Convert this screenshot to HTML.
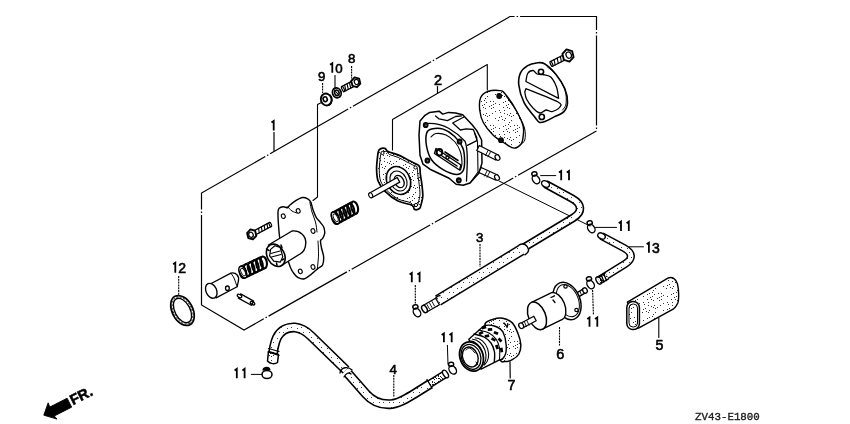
<!DOCTYPE html>
<html><head><meta charset="utf-8">
<style>
html,body{margin:0;padding:0;background:#fff;width:850px;height:424px;overflow:hidden}
svg{display:block;will-change:transform}
.l{stroke:#000;stroke-width:1.3;fill:none;stroke-linecap:round;stroke-linejoin:round}
.w{stroke:#000;stroke-width:1.3;fill:#fff;stroke-linejoin:round}
.s{stroke:#000;stroke-width:1.3;fill:url(#st);stroke-linejoin:round}
.d{stroke:#000;stroke-width:1.2;fill:none;stroke-dasharray:90 2 1.5 2}
.ld{stroke:#000;stroke-width:1.1;fill:none;stroke-dasharray:2 0.8}
.dg{stroke:#000;stroke-width:1.8;fill:none;stroke-linejoin:miter}
.t{font-family:"Liberation Sans",sans-serif;font-size:13px;fill:#000;stroke:#000;stroke-width:0.6}
</style></head><body>
<svg width="850" height="424" viewBox="0 0 850 424">
<defs>
<pattern id="st" width="24" height="24" patternUnits="userSpaceOnUse"><rect width="24" height="24" fill="#fff"/><rect x="19" y="8" width="1" height="1" fill="#333"/><rect x="23" y="11" width="1" height="1" fill="#333"/><rect x="22" y="23" width="1" height="1" fill="#333"/><rect x="20" y="16" width="1" height="1" fill="#333"/><rect x="0" y="14" width="1" height="1" fill="#333"/><rect x="7" y="20" width="1" height="1" fill="#333"/><rect x="1" y="5" width="1" height="1" fill="#333"/><rect x="3" y="11" width="1" height="1" fill="#333"/><rect x="15" y="7" width="1" height="1" fill="#333"/><rect x="12" y="17" width="1" height="1" fill="#333"/><rect x="3" y="18" width="1" height="1" fill="#333"/><rect x="7" y="0" width="1" height="1" fill="#333"/><rect x="23" y="6" width="1" height="1" fill="#333"/><rect x="13" y="8" width="1" height="1" fill="#333"/><rect x="5" y="12" width="1" height="1" fill="#333"/><rect x="5" y="2" width="1" height="1" fill="#333"/><rect x="19" y="14" width="1" height="1" fill="#333"/><rect x="4" y="4" width="1" height="1" fill="#333"/><rect x="0" y="0" width="1" height="1" fill="#333"/><rect x="6" y="6" width="1" height="1" fill="#333"/><rect x="9" y="10" width="1" height="1" fill="#333"/><rect x="6" y="17" width="1" height="1" fill="#333"/><rect x="21" y="20" width="1" height="1" fill="#333"/><rect x="13" y="5" width="1" height="1" fill="#333"/><rect x="4" y="8" width="1" height="1" fill="#333"/><rect x="9" y="19" width="1" height="1" fill="#333"/><rect x="18" y="0" width="1" height="1" fill="#333"/><rect x="19" y="21" width="1" height="1" fill="#333"/><rect x="2" y="9" width="1" height="1" fill="#333"/><rect x="11" y="9" width="1" height="1" fill="#333"/><rect x="15" y="22" width="1" height="1" fill="#333"/><rect x="10" y="5" width="1" height="1" fill="#333"/><rect x="15" y="15" width="1" height="1" fill="#333"/><rect x="11" y="12" width="1" height="1" fill="#333"/><rect x="0" y="17" width="1" height="1" fill="#333"/><rect x="13" y="11" width="1" height="1" fill="#333"/><rect x="1" y="22" width="1" height="1" fill="#333"/><rect x="5" y="19" width="1" height="1" fill="#333"/></pattern>
<pattern id="st2" width="6" height="6" patternUnits="userSpaceOnUse"><rect width="6" height="6" fill="#fff"/><rect x="2" y="1" width="1" height="1" fill="#222"/><rect x="3" y="5" width="1" height="1" fill="#222"/><rect x="0" y="0" width="1" height="1" fill="#222"/><rect x="4" y="0" width="1" height="1" fill="#222"/><rect x="2" y="4" width="1" height="1" fill="#222"/><rect x="0" y="4" width="1" height="1" fill="#222"/><rect x="1" y="0" width="1" height="1" fill="#222"/><rect x="0" y="3" width="1" height="1" fill="#222"/></pattern>
<pattern id="sth" width="10" height="10" patternUnits="userSpaceOnUse"><rect width="10" height="10" fill="#fff"/><rect x="7" y="8" width="1" height="1" fill="#444"/><rect x="3" y="2" width="1" height="1" fill="#444"/><rect x="9" y="2" width="1" height="1" fill="#444"/><rect x="1" y="7" width="1" height="1" fill="#444"/></pattern>
</defs>
<path class="d" d="M201.5,305 L201.5,193 L510,16.5 L596.5,16.5 L596.5,131 L244,330 Z"/>
<path class="dg" d="M271.5,122.6 l2.2,-1.6 v9.5"/>
<path class="l" d="M274,132.5 V151" style="stroke-width:1.2"/>
<path class="l" d="M392.5,150 V119.5 L487.3,64.6 V90" style="stroke-width:1.1"/>
<text class="t" x="434" y="85" style="font-size:14.53px">2</text>
<path class="l" d="M437.5,86.5 V93" style="stroke-width:1.2"/>
<text class="t" x="348" y="62.8" style="font-size:13.27px">8</text>
<path class="dg" d="M330.1,64.8 l2.2,-1.6 v9.5"/>
<text class="t" x="335.3" y="72.7" style="font-size:13.27px">0</text>
<text class="t" x="318" y="81" style="font-size:13.27px">9</text>
<path class="ld" d="M351.6,66 V78.5" />
<path class="l" d="M335,75.5 V88" style="stroke-width:1.1"/>
<path class="ld" d="M322.6,83 V93" />
<ellipse class="w" cx="326.2" cy="99.5" rx="5.3" ry="6" transform="rotate(-20 326.2 99.5)" style="stroke-width:1.9"/>
<path class="l" d="M330,95 C333,98 332.5,103 329,105" style="stroke-width:1.5"/>
<ellipse class="w" cx="325.2" cy="99.2" rx="2" ry="2.4" transform="rotate(-20 325.2 99.2)" style="stroke-width:1.6"/>
<ellipse class="w" cx="336.8" cy="92.8" rx="4.3" ry="5" transform="rotate(-20 336.8 92.8)" style="stroke-width:1.8"/>
<ellipse class="l" cx="336.8" cy="92.8" rx="2.2" ry="2.8" transform="rotate(-20 336.8 92.8)" style="stroke-width:1.6"/>
<path class="l" d="M334.5,90 L339,95.5" style="stroke-width:1.1"/>
<path class="w" d="M352,81.13 L341.7,86.52 L344.3,91.48 L354.6,86.09Z" />
<path class="l" d="M349.43,82.48 L350.7,88.13 M347.02,83.73 L348.29,89.39 M344.62,84.99 L345.89,90.65 M342.22,86.25 L343.48,91.91 " style="stroke-width:1.1"/>
<ellipse class="w" cx="343" cy="89" rx="1" ry="2.8" transform="rotate(152.37 343 89)" style="stroke-width:1.2"/>
<path class="w" d="M360.34,83.61 L357.02,87.2 L352.48,85.89 L351.26,80.99 L354.58,77.4 L359.12,78.71Z" style="stroke-width:1.9"/>
<ellipse class="l" cx="356.51" cy="81.93" rx="2.12" ry="2.59" transform="rotate(152.37 356.51 81.93)" style="stroke-width:1.2"/>
<path class="l" d="M321,102.8 L317.5,104.5 V197 L313,200.5" style="stroke-width:1.1"/>
<path class="w" d="M278,212 C278.07,210.04 278.48,208.82 279.1,208.2 C279.72,207.58 282.31,206.76 283.3,206.7 C284.29,206.64 286.85,207.88 287.6,207.7 C288.35,207.52 288.71,206.06 289.7,205.2 C290.69,204.34 294.62,201.2 296.1,200.3 C297.58,199.4 301.05,197.68 302.4,197.5 C303.75,197.32 306.71,198.23 307.7,198.8 C308.69,199.37 310.28,201.12 310.9,202.4 C311.52,203.68 312.38,208.06 313,209.8 C313.62,211.54 315.32,215.81 316.2,217.3 C317.07,218.79 319.64,221.49 320.5,222.6 C321.36,223.71 323.11,225.56 323.6,226.8 C324.09,228.04 324.82,231.83 324.7,233.2 C324.58,234.56 323.09,237.64 322.6,238.5 C322.11,239.36 320.63,239.49 320.5,240.6 C320.37,241.71 321.14,246.15 321.5,248 C321.86,249.85 323.47,254.52 323.6,256.5 C323.73,258.48 323.22,263.63 322.6,265 C321.98,266.37 319.67,267.08 318.3,268.2 C316.94,269.32 312.51,273.36 310.9,274.6 C309.29,275.84 305.98,278.44 304.5,278.8 C303.02,279.16 299.44,278.32 298.2,277.7 C296.96,277.08 294.76,274.61 293.9,273.5 C293.04,272.39 291.72,270.36 290.8,268.2 C289.88,266.04 287.24,258.22 286,255 C284.76,251.78 281.07,244.1 280.2,240.6 C279.32,237.1 278.76,228.34 278.5,225 C278.24,221.66 277.93,213.96 278,212Z" style="stroke-width:1.4"/>
<path class="l" d="M287.6,206.7 C288.33,207.42 290.43,209.95 292,211 C293.57,212.05 296.17,212.67 297,213" style="stroke-width:1"/>
<path class="l" d="M309.9,202.4 C310.25,204 311.07,208.73 312,212 C312.93,215.27 314.67,218.67 315.5,222 C316.33,225.33 316.75,230.33 317,232" style="stroke-width:1"/>
<path class="l" d="M318,241 C318.08,243.33 318.62,250.3 318.5,255 C318.38,259.7 317.5,266.83 317.3,269.2" style="stroke-width:1"/>
<ellipse class="w" cx="283.3" cy="216.2" rx="1.9" ry="2.3" transform="rotate(-20 283.3 216.2)" style="stroke-width:1.1"/>
<ellipse class="w" cx="298.2" cy="210.9" rx="1.9" ry="2.3" transform="rotate(-20 298.2 210.9)" style="stroke-width:1.1"/>
<ellipse class="w" cx="313" cy="231" rx="1.9" ry="2.3" transform="rotate(-20 313 231)" style="stroke-width:1.1"/>
<ellipse class="w" cx="313" cy="267" rx="1.9" ry="2.3" transform="rotate(-20 313 267)" style="stroke-width:1.1"/>
<ellipse class="w" cx="300.3" cy="271.4" rx="1.9" ry="2.3" transform="rotate(-20 300.3 271.4)" style="stroke-width:1.1"/>
<path class="w" d="M268.5,245 L292,231 C300,230 306,236 305.8,243 C305.5,250 303,252 300,254 L281.5,265.5 Z" style="stroke-width:1.4"/>
<ellipse class="w" cx="275.8" cy="255.3" rx="8.6" ry="11.8" transform="rotate(-28 275.8 255.3)" style="stroke-width:1.6"/>
<path class="l" d="M270.6,249.4 L274.9,245.8 L280.2,247.5 L282.8,256.8 L280.2,262.2 L273.8,261.1 L269.6,255.8Z" style="stroke-width:1.2"/>
<path class="l" d="M270.8,253.5 L280,251 M271.5,257 L281,254.5" style="stroke-width:1.1"/>
<path class="l" d="M266.5,249 l2.5,1.5 M281,245 l1,2.5 M284,259 l-2,1 M277,265.5 l-0.5,-2.5" style="stroke-width:1.5"/>
<path class="w" d="M255.28,234.99 L271.33,226.44 L269.27,222.56 L253.21,231.1Z" />
<path class="l" d="M259.29,232.85 L258.55,228.26 M262.1,231.36 L261.36,226.77 M264.91,229.86 L264.17,225.27 M267.72,228.37 L266.98,223.78 M270.53,226.87 L269.79,222.28 " style="stroke-width:1.1"/>
<ellipse class="w" cx="270.3" cy="224.5" rx="1" ry="2.2" transform="rotate(-28.02 270.3 224.5)" style="stroke-width:1.2"/>
<path class="w" d="M256.34,235.74 L252.94,239.41 L248.31,238.07 L247.06,233.06 L250.46,229.39 L255.09,230.73Z" style="stroke-width:1.9"/>
<ellipse class="l" cx="250.99" cy="234.78" rx="2.16" ry="2.64" transform="rotate(-28.02 250.99 234.78)" style="stroke-width:1.2"/>
<g transform="translate(332.5 219.5) rotate(-28.37)">
<ellipse cx="25.16" cy="0" rx="3.25" ry="6.17" fill="none" stroke="#000" stroke-width="2.1" transform="rotate(14 25.16 0)"/>
<ellipse cx="20.78" cy="0" rx="3.25" ry="6.17" fill="none" stroke="#000" stroke-width="2.1" transform="rotate(14 20.78 0)"/>
<ellipse cx="16.4" cy="0" rx="3.25" ry="6.17" fill="none" stroke="#000" stroke-width="2.1" transform="rotate(14 16.4 0)"/>
<ellipse cx="12.01" cy="0" rx="3.25" ry="6.17" fill="none" stroke="#000" stroke-width="2.1" transform="rotate(14 12.01 0)"/>
<ellipse cx="7.63" cy="0" rx="3.25" ry="6.17" fill="none" stroke="#000" stroke-width="2.1" transform="rotate(14 7.63 0)"/>
<ellipse cx="3.25" cy="0" rx="3.25" ry="6.17" fill="none" stroke="#000" stroke-width="2.1" transform="rotate(14 3.25 0)"/>
<ellipse cx="3.25" cy="0" rx="3.25" ry="6.5" fill="#fff" stroke="#000" stroke-width="1.6"/>
<ellipse cx="3.55" cy="0" rx="1.95" ry="4.23" fill="none" stroke="#000" stroke-width="0.9"/>
<path d="M3.25,-6.5 L25.16,-6.5 M3.25,6.5 L25.16,6.5" stroke="#000" stroke-width="1.2" fill="none"/>
</g>
<g transform="translate(240 273.5) rotate(-25.25)">
<ellipse cx="26.15" cy="0" rx="3.15" ry="5.98" fill="none" stroke="#000" stroke-width="2.1" transform="rotate(14 26.15 0)"/>
<ellipse cx="21.55" cy="0" rx="3.15" ry="5.98" fill="none" stroke="#000" stroke-width="2.1" transform="rotate(14 21.55 0)"/>
<ellipse cx="16.95" cy="0" rx="3.15" ry="5.98" fill="none" stroke="#000" stroke-width="2.1" transform="rotate(14 16.95 0)"/>
<ellipse cx="12.35" cy="0" rx="3.15" ry="5.98" fill="none" stroke="#000" stroke-width="2.1" transform="rotate(14 12.35 0)"/>
<ellipse cx="7.75" cy="0" rx="3.15" ry="5.98" fill="none" stroke="#000" stroke-width="2.1" transform="rotate(14 7.75 0)"/>
<ellipse cx="3.15" cy="0" rx="3.15" ry="5.98" fill="none" stroke="#000" stroke-width="2.1" transform="rotate(14 3.15 0)"/>
<ellipse cx="3.15" cy="0" rx="3.15" ry="6.3" fill="#fff" stroke="#000" stroke-width="1.6"/>
<ellipse cx="3.45" cy="0" rx="1.89" ry="4.09" fill="none" stroke="#000" stroke-width="0.9"/>
<path d="M3.15,-6.3 L26.15,-6.3 M3.15,6.3 L26.15,6.3" stroke="#000" stroke-width="1.2" fill="none"/>
</g>
<path class="w" d="M207.4,285.5 L230.9,273.2 C236,272 239.5,276 238.4,281 L237.1,286.8 L216.1,297.9 Z" />
<ellipse class="w" cx="211.3" cy="290.8" rx="5.3" ry="7.8" transform="rotate(-25 211.3 290.8)" style="stroke-width:1.4"/>
<path class="l" d="M230.9,273.2 C231.42,274 232.97,275.73 234,278 C235.03,280.27 236.58,285.33 237.1,286.8" style="stroke-width:1"/>
<ellipse class="w" cx="227.4" cy="288.2" rx="1.9" ry="2.2" />
<path class="w" d="M238.34,298.1 L251.34,305.3 L253.66,301.1 L240.66,293.9Z" />
<ellipse class="w" cx="239.5" cy="296" rx="1.4" ry="2.4" transform="rotate(-61 239.5 296)" style="stroke-width:1.3"/>
<ellipse class="l" cx="252.5" cy="303.2" rx="1.4" ry="2.4" transform="rotate(-61 252.5 303.2)" style="stroke-width:1.3"/>
<ellipse class="l" cx="182.5" cy="310.5" rx="16" ry="10.3" transform="rotate(62 182.5 310.5)" style="stroke-width:1.7"/>
<ellipse class="l" cx="182.5" cy="310.5" rx="13.2" ry="7.6" transform="rotate(62 182.5 310.5)" style="stroke-width:1.4"/>
<ellipse class="l" cx="182.5" cy="310.5" rx="14.6" ry="8.95" transform="rotate(62 182.5 310.5)" style="stroke-width:0.8;stroke-dasharray:1 2.5"/>
<path class="dg" d="M173.1,264.3 l2.2,-1.6 v10"/>
<text class="t" x="178.3" y="272.7" style="font-size:13.97px">2</text>
<path class="ld" d="M178.7,276 V295.5" />
<path class="s" d="M379,150 C380.23,148.35 383.28,148.03 384.8,148.3 C386.32,148.57 385.9,150.5 388.1,151.6 C390.3,152.7 394.7,153.52 398,154.9 C401.3,156.28 405.15,158.52 407.9,159.9 C410.65,161.28 412.57,162.1 414.5,163.2 C416.43,164.3 418.53,164.72 419.5,166.5 C420.47,168.28 419.9,170.88 420.3,173.9 C420.7,176.92 421.48,180.88 421.9,184.6 C422.32,188.32 422.93,192.9 422.8,196.2 C422.67,199.5 421.65,202.35 421.1,204.4 C420.55,206.45 420.6,207.67 419.5,208.5 C418.4,209.33 415.75,209.95 414.5,209.4 C413.25,208.85 414.75,206.58 412,205.2 C409.25,203.82 402.53,203.43 398,201.1 C393.47,198.77 388.1,194.5 384.8,191.2 C381.5,187.9 379.57,184.87 378.2,181.3 C376.83,177.73 376.73,173.65 376.6,169.8 C376.47,165.95 377,161.5 377.4,158.2 C377.8,154.9 377.77,151.65 379,150Z" style="stroke-width:1.7"/>
<path class="l" d="M381.4,153 C382.49,151.51 385.17,151.23 386.5,151.47 C387.84,151.71 387.47,153.45 389.41,154.44 C391.34,155.43 395.22,156.16 398.12,157.41 C401.02,158.66 404.41,160.66 406.83,161.91 C409.25,163.16 410.94,163.89 412.64,164.88 C414.34,165.87 416.19,166.25 417.04,167.85 C417.89,169.45 417.39,171.79 417.74,174.51 C418.1,177.22 418.79,180.79 419.15,184.14 C419.52,187.48 420.06,191.61 419.94,194.58 C419.83,197.55 418.93,200.12 418.45,201.96 C417.96,203.81 418.01,204.9 417.04,205.65 C416.07,206.4 413.74,206.96 412.64,206.46 C411.54,205.97 412.86,203.92 410.44,202.68 C408.02,201.43 402.11,201.09 398.12,198.99 C394.13,196.89 389.41,193.05 386.5,190.08 C383.6,187.11 381.9,184.38 380.7,181.17 C379.49,177.96 379.41,174.29 379.29,170.82 C379.17,167.36 379.64,163.35 379.99,160.38 C380.34,157.41 380.31,154.49 381.4,153Z" style="stroke-width:1"/>
<ellipse class="w" cx="382.5" cy="153" rx="1.6" ry="1.6" style="stroke-width:1"/>
<ellipse class="w" cx="415.5" cy="167.5" rx="1.6" ry="1.6" style="stroke-width:1"/>
<ellipse class="w" cx="416" cy="205" rx="1.6" ry="1.6" style="stroke-width:1"/>
<ellipse class="w" cx="398.5" cy="180.5" rx="11.5" ry="14.5" transform="rotate(-28 398.5 180.5)" style="stroke-width:1.6"/>
<ellipse class="l" cx="398.5" cy="181" rx="8" ry="10.5" transform="rotate(-28 398.5 181)" style="stroke-width:1.1"/>
<ellipse class="w" cx="399.2" cy="181.5" rx="4.5" ry="6.5" transform="rotate(-28 399.2 181.5)" style="stroke-width:1.3"/>
<path class="w" d="M371.77,197.77 L399.77,182.07 L397.23,177.53 L369.23,193.23Z" />
<ellipse class="w" cx="370.7" cy="195.3" rx="1.8" ry="2.6" transform="rotate(-30 370.7 195.3)" style="stroke-width:1.1"/>
<path class="w" d="M420,121 L425,115.3 L429.7,112.4 L439.1,111.2 L442.7,114.1 L448.6,112.4 L455.6,113 L462.7,114.7 L472.1,124.7 L476.8,130.6 L481.6,140 L482,163 L479,173 L470,183 L463.2,185.3 L456.1,184.3 L449.1,178.2 L430,169.2 L423,164.2 L420,155.2 L419,135.1Z" style="stroke-width:1.5"/>
<path class="l" d="M435.6,115.9 L439.1,118.9 L447.4,120.6 L455.6,116.5 L461.5,115.9" style="stroke-width:1.3"/>
<path class="l" d="M463.9,117 L452.7,123 L460.4,130 L466.2,128.9 L473.3,129.5 L476.8,137.7 L476.8,140.7 L467.4,145.4" style="stroke-width:1.3"/>
<path class="l" d="M425,123.6 C431,123 441,124 448.6,128.3 C455,132 461,137 465,141.2 C467,146 467.5,160 467,170 L466.5,181" style="stroke-width:1.3"/>
<path class="l" d="M474.5,133 L477.5,142 L478,172 L470,183" style="stroke-width:1.1"/>
<path class="w" d="M426.6,133.2 C427.42,130.32 428.75,129.78 431.5,129.1 C434.25,128.42 439.23,127.87 443.1,129.1 C446.97,130.33 451.4,133.33 454.7,136.5 C458,139.67 461.25,143.97 462.9,148.1 C464.55,152.23 464.6,157.45 464.6,161.3 C464.6,165.15 464.28,169 462.9,171.2 C461.52,173.4 459.6,174.77 456.3,174.5 C453,174.23 447.23,172.07 443.1,169.6 C438.97,167.13 434.25,163.57 431.5,159.7 C428.75,155.83 427.42,150.82 426.6,146.4 C425.78,141.98 425.78,136.08 426.6,133.2Z" style="stroke-width:1.5"/>
<path class="l" d="M431,137 C431.83,136.42 433.5,133.83 436,133.5 C438.5,133.17 442.83,133.58 446,135 C449.17,136.42 452.58,139.17 455,142 C457.42,144.83 459.33,148.5 460.5,152 C461.67,155.5 462,160 462,163 C462,166 460.75,168.83 460.5,170" style="stroke-width:1.1"/>
<path class="l" d="M436,148.5 L461,165 L459.5,170 L434.5,153.5 Z" style="stroke-width:1.4"/>
<path class="l" d="M442,156 L457,166 M445,152 L458,160.5" style="stroke-width:1.5"/>
<ellipse class="l" cx="439.5" cy="152.2" rx="2.8" ry="3.2" style="stroke-width:1.9"/>
<ellipse class="l" cx="447.5" cy="157.5" rx="1.6" ry="1.6" style="stroke-width:1.4"/>
<ellipse class="w" cx="425.7" cy="125" rx="2.3" ry="2.5" style="stroke-width:1.2;fill:#111"/>
<ellipse class="w" cx="426" cy="125.2" rx="0.7" ry="0.8" style="stroke:none;fill:#888"/>
<ellipse class="w" cx="459.6" cy="141.5" rx="2.3" ry="2.5" style="stroke-width:1.2;fill:#111"/>
<ellipse class="w" cx="459.9" cy="141.7" rx="0.7" ry="0.8" style="stroke:none;fill:#888"/>
<ellipse class="w" cx="427.4" cy="160.5" rx="2.3" ry="2.5" style="stroke-width:1.2;fill:#111"/>
<ellipse class="w" cx="427.7" cy="160.7" rx="0.7" ry="0.8" style="stroke:none;fill:#888"/>
<ellipse class="w" cx="458.8" cy="180.3" rx="2.3" ry="2.5" style="stroke-width:1.2;fill:#111"/>
<ellipse class="w" cx="459.1" cy="180.5" rx="0.7" ry="0.8" style="stroke:none;fill:#888"/>
<path class="w" d="M476.77,150.46 L495.77,159.96 L498.23,155.04 L479.23,145.54Z" />
<path class="l" d="M488,150.5 l-2.5,5 M490.5,151.8 l-2.5,5" style="stroke-width:0.9"/>
<ellipse class="w" cx="497.5" cy="157.5" rx="2.2" ry="3" transform="rotate(-30 497.5 157.5)" style="stroke-width:1.2"/>
<path class="w" d="M478.86,172.5 L495.36,180 L497.64,175 L481.14,167.5Z" />
<path class="l" d="M487,171 l-2.5,5 M489.5,172.3 l-2.5,5" style="stroke-width:0.9"/>
<ellipse class="w" cx="497" cy="177.5" rx="2.2" ry="3" transform="rotate(-30 497 177.5)" style="stroke-width:1.2"/>
<path class="s" d="M480.6,97.7 C481.93,94.62 484.47,92.68 487.7,91.5 C490.93,90.32 497.05,90.15 500,90.6 C502.95,91.05 502.73,90.97 505.4,94.2 C508.07,97.43 513.05,104.7 516,110 C518.95,115.3 521.92,121.57 523.1,126 C524.28,130.43 523.4,133.65 523.1,136.6 C522.8,139.55 522.78,141.78 521.3,143.7 C519.82,145.62 516.85,148.1 514.2,148.1 C511.55,148.1 508.93,145.9 505.4,143.7 C501.87,141.5 496.68,138.43 493,134.9 C489.32,131.37 485.52,126.65 483.3,122.5 C481.08,118.35 480.15,114.13 479.7,110 C479.25,105.87 479.27,100.78 480.6,97.7Z" style="stroke-width:1.4"/>
<path class="l" d="M506,96 C507.83,98.67 513.92,106.67 517,112 C520.08,117.33 523.2,123.33 524.5,128 C525.8,132.67 525.33,137.38 524.8,140 C524.27,142.62 521.88,143.08 521.3,143.7" style="stroke-width:1"/>
<ellipse class="w" cx="499.2" cy="96" rx="2.3" ry="2.3" style="stroke-width:1.2;fill:#111"/>
<ellipse class="w" cx="501" cy="140.2" rx="2.3" ry="2.3" style="stroke-width:1.2;fill:#111"/>
<path class="w" d="M536.5,63 C539.3,62.7 541.25,61.9 544.5,63.8 C547.75,65.7 552.62,70.27 556,74.4 C559.38,78.53 562.88,83.88 564.8,88.6 C566.72,93.32 567.65,98.87 567.5,102.7 C567.35,106.53 566.12,109.23 563.9,111.6 C561.68,113.97 557.28,115.28 554.2,116.9 C551.12,118.52 547.9,120.42 545.4,121.3 C542.9,122.18 540.98,122.93 539.2,122.2 C537.42,121.47 537.22,120.15 534.7,116.9 C532.18,113.65 526.75,108.02 524.1,102.7 C521.45,97.38 519.38,90 518.8,85 C518.22,80 519.12,75.93 520.6,72.7 C522.08,69.47 525.05,67.22 527.7,65.6 C530.35,63.98 533.7,63.3 536.5,63Z" style="stroke-width:1.6"/>
<path class="l" d="M547,66.5 C548.67,68.08 554,72.08 557,76 C560,79.92 563.5,85.33 565,90 C566.5,94.67 566.42,100.67 566,104 C565.58,107.33 563.08,109 562.5,110" style="stroke-width:0.9"/>
<path class="l" d="M525.9,81.5 C526.2,80.17 526.52,75.33 527.7,73.5 C528.88,71.67 531.45,70.42 533,70.5 C534.55,70.58 535.33,73.33 537,74 C538.67,74.67 540.72,74 543,74.5 C545.28,75 548.45,74.92 550.7,77 C552.95,79.08 555.18,83.45 556.5,87 C557.82,90.55 558.25,96.42 558.6,98.3 Z" style="stroke-width:1.3"/>
<path class="l" d="M525.9,88.6 C531.2,90.8 552.1,98.65 557.7,101.8 C563.3,104.95 560.45,105.87 559.5,107.5 C558.55,109.13 554.25,111.18 552,111.6 C549.75,112.02 548,109.77 546,110 C544,110.23 542.17,113.33 540,113 C537.83,112.67 535.25,110.33 533,108 C530.75,105.67 527.87,101.67 526.5,99 C525.13,96.33 525.08,93.17 524.8,92 Z" style="stroke-width:1.3"/>
<ellipse class="w" cx="541" cy="71.8" rx="2.6" ry="2.6" style="stroke-width:1.6"/>
<ellipse class="w" cx="541.8" cy="116.9" rx="2.6" ry="2.6" style="stroke-width:1.6"/>
<path class="w" d="M563.72,54.76 L550.32,61.58 L552.68,66.22 L566.08,59.4Z" />
<path class="l" d="M560.37,56.47 L561.39,61.78 M557.24,58.06 L558.27,63.37 M554.12,59.65 L555.14,64.96 M550.99,61.24 L552.01,66.56 " style="stroke-width:1.1"/>
<ellipse class="w" cx="551.5" cy="63.9" rx="1" ry="2.6" transform="rotate(153.02 551.5 63.9)" style="stroke-width:1.2"/>
<path class="w" d="M573.6,57.12 L569.5,61.55 L563.9,59.93 L562.4,53.88 L566.5,49.45 L572.1,51.07Z" style="stroke-width:1.9"/>
<ellipse class="l" cx="568.71" cy="55.14" rx="2.61" ry="3.19" transform="rotate(153.02 568.71 55.14)" style="stroke-width:1.2"/>
<path class="l" d="M499,181 L590,226" style="stroke-width:1"/>
<path d="M545.5,184 L572,198.5 C582,204 583,212 573,218 L524,247.5" stroke="#000" stroke-width="8.6" fill="none" stroke-linecap="butt" stroke-linejoin="round"/>
<path d="M545.5,184 L572,198.5 C582,204 583,212 573,218 L524,247.5" stroke="url(#sth)" stroke-width="5.4" fill="none" stroke-linecap="butt" stroke-linejoin="round"/>
<ellipse class="w" cx="545.5" cy="184" rx="3" ry="4.2" transform="rotate(-60 545.5 184)" style="stroke-width:1.4"/>
<path d="M438,300.5 L522,249.5" stroke="#000" stroke-width="11.5" fill="none"/>
<path d="M438,300.5 L522,249.5" stroke="url(#sth)" stroke-width="8.5" fill="none"/>
<path d="M519,245 C524,242 528,246 528.5,249.5 C529,252 527,253.5 524.5,255" fill="#fff" stroke="#000" stroke-width="1.5"/>
<path d="M440.5,295.5 C434,296 434,303 437.5,306.5" fill="none" stroke="#000" stroke-width="1.5"/>
<path class="w" d="M426.4,312.29 L439.4,304.79 L435.6,298.21 L422.6,305.71Z" />
<path class="l" d="M427,304.5 l2.5,4.5 M429.5,303 l2.5,4.5 M432,301.5 l2.5,4.5" style="stroke-width:0.9"/>
<ellipse class="w" cx="424.5" cy="309" rx="2.4" ry="3.9" transform="rotate(-30 424.5 309)" style="stroke-width:1.5"/>
<text class="t" x="476" y="242" style="font-size:13.27px">3</text>
<path class="ld" d="M480,244 V267" />
<path d="M601.5,236 L624,248 C633,253 633,259 625,264 L600,279.5" stroke="#000" stroke-width="8.2" fill="none" stroke-linecap="butt" stroke-linejoin="round"/>
<path d="M601.5,236 L624,248 C633,253 633,259 625,264 L600,279.5" stroke="url(#sth)" stroke-width="5.2" fill="none" stroke-linecap="butt" stroke-linejoin="round"/>
<ellipse class="w" cx="601.5" cy="236" rx="2.8" ry="4" transform="rotate(-60 601.5 236)" style="stroke-width:1.4"/>
<path d="M607,276 L599,280.5" stroke="#000" stroke-width="8.2" fill="none" stroke-linecap="butt" stroke-linejoin="round"/>
<path d="M607,276 L599,280.5" stroke="url(#st2)" stroke-width="5.2" fill="none" stroke-linecap="butt" stroke-linejoin="round"/>
<path class="l" d="M601.5,275.5 l2.5,6.5 M604,274.2 l2.5,6.5" style="stroke-width:1.3"/>
<ellipse class="l" cx="598.8" cy="280.4" rx="2.4" ry="4" transform="rotate(-30 598.8 280.4)" style="stroke-width:1.4"/>
<path class="dg" d="M646.7,244.3 l2.2,-1.6 v10"/>
<text class="t" x="651.9" y="252.7" style="font-size:13.97px">3</text>
<path class="l" d="M629.5,246.8 H643.5" style="stroke-width:1"/>
<ellipse class="l" cx="536" cy="179.5" rx="3.3" ry="4.6" transform="rotate(-35 536 179.5)" style="stroke-width:1.4"/>
<ellipse class="l" cx="534.4" cy="173.9" rx="2.6" ry="2.1" transform="rotate(-10 534.4 173.9)" style="stroke-width:1.5"/>
<ellipse class="l" cx="591.3" cy="228.5" rx="3.3" ry="4.6" transform="rotate(-35 591.3 228.5)" style="stroke-width:1.4"/>
<ellipse class="l" cx="589.7" cy="222.9" rx="2.6" ry="2.1" transform="rotate(-10 589.7 222.9)" style="stroke-width:1.5"/>
<ellipse class="l" cx="417" cy="312.5" rx="3.3" ry="4.6" transform="rotate(-35 417 312.5)" style="stroke-width:1.4"/>
<ellipse class="l" cx="415.4" cy="306.9" rx="2.6" ry="2.1" transform="rotate(-10 415.4 306.9)" style="stroke-width:1.5"/>
<ellipse class="l" cx="452.7" cy="369.9" rx="3.3" ry="4.6" transform="rotate(-35 452.7 369.9)" style="stroke-width:1.4"/>
<ellipse class="l" cx="451.1" cy="364.3" rx="2.6" ry="2.1" transform="rotate(-10 451.1 364.3)" style="stroke-width:1.5"/>
<ellipse class="l" cx="590.6" cy="284.5" rx="3.3" ry="4.6" transform="rotate(-35 590.6 284.5)" style="stroke-width:1.4"/>
<ellipse class="l" cx="589" cy="278.9" rx="2.6" ry="2.1" transform="rotate(-10 589 278.9)" style="stroke-width:1.5"/>
<ellipse class="l" cx="267" cy="374.5" rx="5" ry="4" style="stroke-width:1.5"/>
<path d="M263,370.5 C263,367 269,366 270,370" fill="#000" stroke="#000" stroke-width="1.3"/>
<path class="dg" d="M559,172.5 l2.2,-1.6 v9.3"/>
<path class="dg" d="M566.8,172.5 l2.2,-1.6 v9.3"/>
<path class="l" d="M540.6,175.6 H555.8" style="stroke-width:1"/>
<path class="dg" d="M618.8,223.2 l2.2,-1.6 v9.3"/>
<path class="dg" d="M626.6,223.2 l2.2,-1.6 v9.3"/>
<path class="l" d="M595,227.4 H616.5" style="stroke-width:1"/>
<path class="dg" d="M409.6,274.5 l2.2,-1.6 v9.3"/>
<path class="dg" d="M417.4,274.5 l2.2,-1.6 v9.3"/>
<path class="ld" d="M415.3,285 V303.4" />
<path class="dg" d="M441.7,335.1 l2.2,-1.6 v8.8"/>
<path class="dg" d="M449.5,335.1 l2.2,-1.6 v8.8"/>
<path class="l" d="M447.4,345.3 L448,364" style="stroke-width:1"/>
<path class="dg" d="M587.3,319.1 l2.2,-1.6 v9.2"/>
<path class="dg" d="M595.1,319.1 l2.2,-1.6 v9.2"/>
<path class="ld" d="M592.6,290 L593.4,314.4" />
<path class="dg" d="M234.6,370.4 l2.2,-1.6 v9.5"/>
<path class="dg" d="M242.4,370.4 l2.2,-1.6 v9.5"/>
<path class="l" d="M251.3,374.4 H261.9" style="stroke-width:1"/>
<path class="s" d="M627.4,302.2 L667.9,278.2 C672,276 676,279 677.5,284 C679,290 679,300 677.8,303 C676,307 675,308 673.6,308.8 L639,327.8 C636,329 634,329 633.2,328.6 Z" style="stroke-width:1.4"/>
<rect class="w" x="626.8" y="301.5" width="12.6" height="28" rx="6" style="stroke-width:1.5"/>
<rect class="s" x="629" y="304" width="8.5" height="23" rx="4" style="stroke-width:1"/>
<text class="t" x="655.5" y="350.2" style="font-size:14.25px">5</text>
<path class="l" d="M658.8,317.9 V337.5" style="stroke-width:1.1"/>
<path class="w" d="M578.66,296.93 L586.16,292.43 L583.84,288.57 L576.34,293.07Z" />
<path class="l" d="M580,291.5 l1.5,3.5" style="stroke-width:0.9"/>
<ellipse class="w" cx="585" cy="290.5" rx="2.2" ry="2.8" transform="rotate(-30 585 290.5)" style="stroke-width:1.3"/>
<ellipse class="w" cx="567" cy="301" rx="13" ry="19.5" transform="rotate(-22 567 301)" style="stroke-width:1.5"/>
<ellipse class="l" cx="567.8" cy="300.6" rx="10.5" ry="16.8" transform="rotate(-22 567.8 300.6)" style="stroke-width:1"/>
<ellipse class="w" cx="565.5" cy="286.5" rx="1.7" ry="1.7" style="stroke-width:1.2"/>
<ellipse class="w" cx="576.5" cy="310" rx="1.7" ry="1.7" style="stroke-width:1.2"/>
<path class="w" d="M531.6,302.4 L551.6,292.6 A8.5,14.5 -22 0 1 562.4,319.4 L542.4,329.2 Z" style="stroke-width:1.4"/>
<path class="l" d="M551,297.5 l3.5,-1.7 M553,300 l2,2.5" style="stroke-width:1.3"/>
<ellipse class="w" cx="537" cy="315.8" rx="8.5" ry="14.5" transform="rotate(-22 537 315.8)" style="stroke-width:1.5"/>
<path class="w" d="M522.18,328.2 L536.18,320.7 L533.82,316.3 L519.82,323.8Z" />
<path class="l" d="M524.5,322 l2,4.5 M527,320.7 l2,4.5" style="stroke-width:0.9"/>
<ellipse class="w" cx="521.2" cy="325.8" rx="2.3" ry="2.9" transform="rotate(-30 521.2 325.8)" style="stroke-width:1.3"/>
<text class="t" x="556.3" y="358.6" style="font-size:14.53px">6</text>
<path class="ld" d="M559.5,327 V345.6" />
<path class="s" d="M484.9,324.8 C484.63,321.33 490.42,320.3 493.4,319.2 C496.38,318.1 499.65,317.58 502.8,318.2 C505.95,318.82 509.78,320.38 512.3,322.9 C514.82,325.42 516.48,329.68 517.9,333.3 C519.32,336.92 520.63,341.15 520.8,344.6 C520.97,348.05 520.32,351.48 518.9,354 C517.48,356.52 514.67,358.43 512.3,359.7 C509.93,360.97 506.75,361.6 504.7,361.6 C502.65,361.6 501.62,363.3 500,359.7 C498.38,356.1 497.52,345.82 495,340 C492.48,334.18 485.17,328.27 484.9,324.8Z" style="stroke-width:1.5"/>
<path class="l" d="M504,323 l2.5,3 M508,324 l-1,3.5" style="stroke-width:1.3"/>
<path class="w" d="M468.8,339.2 L484,325.8 C490,324 499,326 503,332 C507,340 507,352 504.7,355.9 C503,359 501,360 500,359.7 L481.1,369.2 Z" style="stroke-width:1.4"/>
<path class="l" d="M474,334 C475.67,334.5 481.17,335.5 484,337 C486.83,338.5 489.25,340.5 491,343 C492.75,345.5 493.95,348.83 494.5,352 C495.05,355.17 494.33,360.33 494.3,362" style="stroke-width:1.4"/>
<path class="l" d="M479,330 C480.67,330.5 486.17,331.5 489,333 C491.83,334.5 494.25,336.5 496,339 C497.75,341.5 498.92,344.5 499.5,348 C500.08,351.5 499.5,358 499.5,360" style="stroke-width:1.1"/>
<rect x="481.8" y="326.1" width="4.4" height="2.8" fill="#000" transform="rotate(-15 484 327.5)"/>
<rect x="487.8" y="328.1" width="4.4" height="2.8" fill="#000" transform="rotate(-5 490 329.5)"/>
<rect x="493.8" y="331.6" width="4.4" height="2.8" fill="#000" transform="rotate(20 496 333)"/>
<rect x="478.8" y="331.6" width="4.4" height="2.8" fill="#000" transform="rotate(-25 481 333)"/>
<rect x="484.8" y="334.6" width="4.4" height="2.8" fill="#000" transform="rotate(-10 487 336)"/>
<rect x="497.8" y="338.6" width="4.4" height="2.8" fill="#000" transform="rotate(50 500 340)"/>
<rect x="491.3" y="338.1" width="4.4" height="2.8" fill="#000" transform="rotate(30 493.5 339.5)"/>
<rect x="494.8" y="345.6" width="4.4" height="2.8" fill="#000" transform="rotate(70 497 347)"/>
<rect x="499.3" y="348.6" width="4.4" height="2.8" fill="#000" transform="rotate(80 501.5 350)"/>
<path d="M469.6,340.9 A11.5,15 -20 0 1 478.9,368.4" fill="none" stroke="#000" stroke-width="1.1"/>
<path d="M472.2,339.3 A11.5,15 -20 0 1 481.5,366.8" fill="none" stroke="#000" stroke-width="1.1"/>
<path d="M474.8,337.7 A11.5,15 -20 0 1 484.1,365.2" fill="none" stroke="#000" stroke-width="1.1"/>
<ellipse class="w" cx="471.5" cy="356.5" rx="11.5" ry="15" transform="rotate(-20 471.5 356.5)" style="stroke-width:1.8"/>
<ellipse class="l" cx="471" cy="356.8" rx="9.6" ry="12.8" transform="rotate(-20 471 356.8)" style="stroke-width:1.3"/>
<ellipse class="w" cx="470.3" cy="357" rx="7.6" ry="10.3" transform="rotate(-20 470.3 357)" style="stroke-width:1.4"/>
<path class="l" d="M466,350 C466.67,349.67 468.5,347.5 470,348 C471.5,348.5 474.17,352.17 475,353" style="stroke-width:1"/>
<path class="l" d="M476,362 l2,3 M466,364 l2,2" style="stroke-width:1"/>
<text class="t" x="507.5" y="390.1" style="font-size:14.25px">7</text>
<path class="l" d="M510,361.5 L510.2,378" style="stroke-width:1.2"/>
<path d="M272.5,360 C273,351 274,344 277,337.5 C281,330 288,327 295,327.5 C301,328 306,331 311,336 L346,370" stroke="#000" stroke-width="10" fill="none" stroke-linecap="butt" stroke-linejoin="round"/>
<path d="M272.5,360 C273,351 274,344 277,337.5 C281,330 288,327 295,327.5 C301,328 306,331 311,336 L346,370" stroke="url(#sth)" stroke-width="6.8" fill="none" stroke-linecap="butt" stroke-linejoin="round"/>
<path d="M268.5,351.5 L278.5,354.5 L277.5,362.5 C275,364.5 270,364 267.5,361 Z" fill="url(#st)" stroke="#000" stroke-width="1.5" stroke-linejoin="round"/>
<path class="l" d="M268.5,348.5 L279,351.5 M268,352 L279,355.5" style="stroke-width:1.2"/>
<path d="M348,373.5 L366,394 C373,402 382,405 392,404 C400,403 408,398 430,384" stroke="#000" stroke-width="10" fill="none" stroke-linecap="butt" stroke-linejoin="round"/>
<path d="M348,373.5 L366,394 C373,402 382,405 392,404 C400,403 408,398 430,384" stroke="url(#sth)" stroke-width="6.8" fill="none" stroke-linecap="butt" stroke-linejoin="round"/>
<path class="l" d="M340,373 C341,367 348,366 352,370 M344,377 C346,373 349,372 351,374" style="stroke-width:1.3"/>
<path d="M429.5,384 L445.5,374" stroke="#000" stroke-width="8.5" fill="none" stroke-linecap="butt" stroke-linejoin="round"/>
<path d="M429.5,384 L445.5,374" stroke="url(#st2)" stroke-width="5.5" fill="none" stroke-linecap="butt" stroke-linejoin="round"/>
<ellipse class="w" cx="445.5" cy="374" rx="2.3" ry="4.2" transform="rotate(-32 445.5 374)" style="stroke-width:1.4"/>
<path class="l" d="M427,379.5 L432,388" style="stroke-width:1.3"/>
<text class="t" x="389.5" y="373.5" style="font-size:13.27px">4</text>
<path class="ld" d="M393.8,375 V397" />
<g transform="translate(44 414.5) rotate(-27)">
<path d="M-0.5,0.5 L9,-8.5 L8.5,-4 L28,-4 L28,6 L8.5,6 L9.5,10 Z" fill="#000" stroke="#000" stroke-width="0.8" stroke-linejoin="round"/>
<text x="30" y="4.8" style="font-family:'Liberation Sans',sans-serif;font-weight:bold;font-size:14.5px;stroke:#000;stroke-width:0.5">FR.</text>
</g>
<text x="695" y="420.3" style="font-family:'Liberation Mono',monospace;font-size:10.8px;fill:#222;stroke:#222;stroke-width:0.35">ZV43-E1800</text>
</svg>
</body></html>
